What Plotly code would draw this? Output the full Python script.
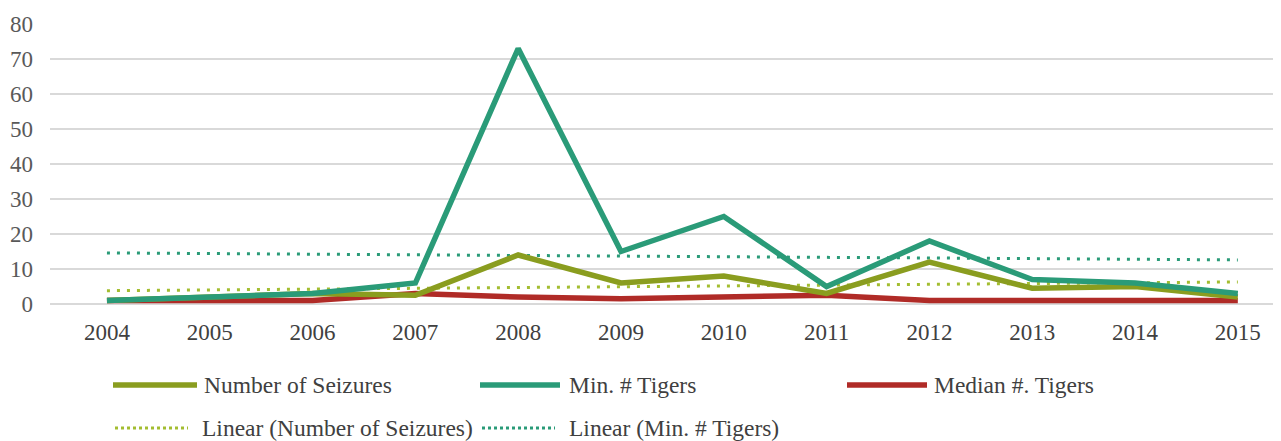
import plotly.graph_objects as go

years = [2004, 2005, 2006, 2007, 2008, 2009, 2010, 2011, 2012, 2013, 2014, 2015]
seizures = [1, 2, 3, 2.5, 14, 6, 8, 3, 12, 4.5, 5, 2]
min_tigers = [1, 2, 3, 6, 73, 15, 25, 5, 18, 7, 6, 3]
median_tigers = [1, 1, 1, 3, 2, 1.5, 2, 2.5, 1, 1, 1, 1]
trend_years = [2004, 2015]
trend_seizures = [3.8, 6.3]
trend_min = [14.6, 12.6]

names = ["Number of Seizures", "Min. # Tigers", "Median #. Tigers",
         "Linear (Number of Seizures)", "Linear (Min. # Tigers)"]
y_ticks = [0, 10, 20, 30, 40, 50, 60, 70, 80]

OLIVE = "#8a9d1f"
TEAL = "#2a9b78"
RED = "#b02b27"
OLIVE_DOT = "#a3bd30"
TEAL_DOT = "#2a9b78"
FONT = "serif"

fig = go.Figure()
fig.add_trace(go.Scatter(x=trend_years, y=trend_seizures, mode="lines", name=names[3],
                         line=dict(color=OLIVE_DOT, width=3, dash="3px,7px"), showlegend=False))
fig.add_trace(go.Scatter(x=trend_years, y=trend_min, mode="lines", name=names[4],
                         line=dict(color=TEAL_DOT, width=3, dash="3px,7px"), showlegend=False))
fig.add_trace(go.Scatter(x=years, y=median_tigers, mode="lines", name=names[2],
                         line=dict(color=RED, width=5.5), showlegend=False))
fig.add_trace(go.Scatter(x=years, y=seizures, mode="lines", name=names[0],
                         line=dict(color=OLIVE, width=5.5), showlegend=False))
fig.add_trace(go.Scatter(x=years, y=min_tigers, mode="lines", name=names[1],
                         line=dict(color=TEAL, width=5.5), showlegend=False))

# page body has an 8px margin; figure is placed at (8, 8)
OFF = 8
W, H = 1281 - OFF, 441 - OFF
L, R, T = 50 - OFF, 0, 24 - OFF
B = H - (304 - OFF)
pw = W - L - R
ph = H - T - B


def px_x(px):
    return (px - OFF - L) / pw


def px_y(py):
    return (H - B - (py - OFF)) / ph


legend_items = [
    (names[0], OLIVE, 5.5, "solid", 113, 197, 202, 385),
    (names[1], TEAL, 5.5, "solid", 480, 560, 567, 385),
    (names[2], RED, 5.5, "solid", 847, 927, 932, 385),
    (names[3], OLIVE_DOT, 3, "dot", 115, 188, 200, 428),
    (names[4], TEAL_DOT, 3, "dot", 482, 555, 567, 428),
]
shapes = []
annotations = []
for name, col, wd, dash, x0, x1, tx, ty in legend_items:
    shapes.append(dict(type="line", xref="paper", yref="paper",
                       x0=px_x(x0), x1=px_x(x1), y0=px_y(ty), y1=px_y(ty),
                       line=dict(color=col, width=wd, dash=dash)))
    annotations.append(dict(text=name, xref="paper", yref="paper", x=px_x(tx), y=px_y(ty),
                            xanchor="left", yanchor="middle", showarrow=False,
                            font=dict(family=FONT, size=23.5, color="#404040")))

fig.update_layout(
    width=W, height=H,
    margin=dict(l=L, r=R, t=T, b=B, pad=0),
    paper_bgcolor="white", plot_bgcolor="white",
    showlegend=False,
    font=dict(family=FONT),
    shapes=shapes, annotations=annotations,
    xaxis=dict(range=[2003.446, 2015.42], tickvals=years, ticktext=[str(y) for y in years],
               showgrid=False, zeroline=False, showline=False, ticks="",
               ticklabelstandoff=12,
               tickfont=dict(family=FONT, size=23, color="#404040")),
    yaxis=dict(range=[0, 80], tickvals=y_ticks, showgrid=True, gridcolor="#d9d9d9", gridwidth=2,
               zeroline=True, zerolinecolor="#d9d9d9", zerolinewidth=2, showline=False, ticks="",
               ticklabelstandoff=16,
               tickfont=dict(family=FONT, size=23, color="#595959")),
)

fig.write_html("out.html")
